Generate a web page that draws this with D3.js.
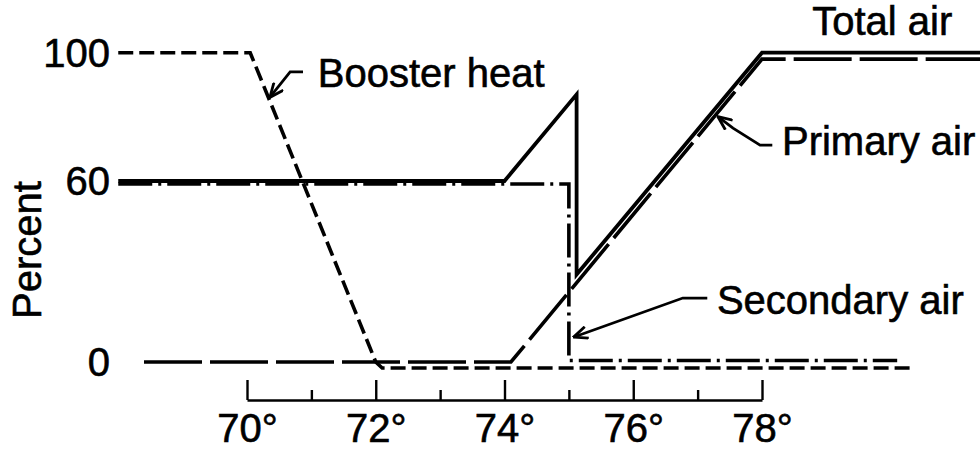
<!DOCTYPE html>
<html lang="en">
  <head>
    <meta charset="utf-8">
    <title>Percent vs temperature</title>
    <script src="https://cdn.jsdelivr.net/npm/d3@7"></script>
    <style type="text/css">
      body { margin: 0; background: #fff; }
      svg { display: block; background: #fff; }
      text { font-family: "Liberation Sans", Arial, Helvetica, sans-serif; fill: #000; stroke: #000; stroke-width: 0.6; }
      .series { fill: none; stroke: #000; stroke-linejoin: miter; }
      .arrow { fill: none; stroke: #000; stroke-width: 2.8; }
    </style>
  </head>
  <body>
    <svg width="980" height="451"></svg>
    <script type="text/javascript">
      // readings, [degrees, percent]
      var totalAir = [[68, 60], [74, 60], [75.12, 87], [75.12, 29], [78, 100], [81.6, 100]];
      var primaryAir = [[68.4, 0], [74.1, 0], [78, 98], [81.6, 98]];
      var secondaryAir = [[68, 59], [75, 59], [75, 0.5], [80.1, 0.5]];
      var boosterHeat = [[68, 100], [70.05, 100], [72, 0], [72.1, -2], [80.35, -2]];

      var majorTicks = [70, 72, 74, 76, 78];
      var minorTicks = [71, 73, 75, 77];
      var yTicks = [0, 60, 100];

      // label text, label anchor [deg, pct], arrow points [deg, pct] ending at the tip
      var noteText = ["Booster heat", "Total air", "Primary air", "Secondary air"];
      var noteAt = [[71.1, 93.7], [78.78, 109.9], [78.31, 72.5], [77.3, 20.6]];
      var noteArrow = [
        [[70.87, 94], [70.67, 94], [70.36, 86.2]],
        [],
        [[78.16, 71.2], [77.97, 71.2], [77.55, 76.5], [77.32, 80]],
        [[77.15, 21.2], [76.77, 21.2], [75.08, 8.3]]
      ];

      var svg = d3.select("svg"),
          width = +svg.attr("width"),
          height = +svg.attr("height");

      var x = d3.scaleLinear().domain([70, 78]).range([247, 762]);
      var y = d3.scaleLinear().domain([0, 60, 100]).range([362, 181, 52.7]);

      var line = d3.line()
        .x(function(d) { return x(d[0]); })
        .y(function(d) { return y(d[1]); });

      var series = [
        { data: boosterHeat, width: 3.6, dash: "15,6" },
        { data: primaryAir, width: 3.6, dash: "58,8" },
        { data: secondaryAir, width: 3.6, dash: "34,6,3,6" },
        { data: totalAir, width: 3.8, dash: null }
      ];

      svg.selectAll(".series")
        .data(series)
        .enter().append("path")
          .attr("class", "series")
          .attr("stroke-width", function(d) { return d.width; })
          .attr("stroke-dasharray", function(d) { return d.dash; })
          .attr("d", function(d) { return line(d.data); });

      // x axis: ticks point up from the base line
      var axisG = svg.append("g")
        .attr("transform", "translate(0," + 400 + ")");

      axisG.append("g")
        .call(d3.axisTop(x).tickValues(majorTicks).tickSize(20).tickSizeOuter(0).tickFormat(""))
        .call(function(g) {
          g.select(".domain").attr("stroke-width", 2.4);
          g.selectAll(".tick line").attr("stroke-width", 2.4);
        });

      axisG.append("g")
        .call(d3.axisTop(x).tickValues(minorTicks).tickSize(10).tickFormat(""))
        .call(function(g) {
          g.select(".domain").remove();
          g.selectAll(".tick line").attr("stroke-width", 2.4);
        });

      axisG.append("g")
        .call(d3.axisBottom(x).tickValues(majorTicks).tickSize(0).tickPadding(14)
          .tickFormat(function(d) { return d + "\u00b0"; }))
        .call(function(g) {
          g.select(".domain").remove();
          g.selectAll("text")
            .attr("font-size", 40)
            .attr("font-family", "'Liberation Sans', Arial, sans-serif")
            .attr("fill", "#000");
        });

      // y labels, no axis line
      svg.selectAll(".ylab")
        .data(yTicks)
        .enter().append("text")
          .attr("class", "ylab")
          .attr("x", 110)
          .attr("y", function(d) { return y(d); })
          .attr("dy", "0.36em")
          .attr("text-anchor", "end")
          .style("font-size", "40px")
          .text(function(d) { return d; });

      svg.append("text")
        .attr("transform", "translate(27,250) rotate(-90)")
        .attr("dy", "0.35em")
        .attr("text-anchor", "middle")
        .style("font-size", "40px")
        .text("Percent");

      svg.append("defs").append("marker")
        .attr("id", "head")
        .attr("viewBox", "0 0 16 14")
        .attr("refX", 14.5)
        .attr("refY", 7)
        .attr("markerWidth", 16)
        .attr("markerHeight", 14)
        .attr("markerUnits", "userSpaceOnUse")
        .attr("orient", "auto")
        .append("path")
          .attr("d", "M1,1 L15,7 L1,13")
          .attr("fill", "none")
          .attr("stroke", "#000")
          .attr("stroke-width", 2.8);

      svg.selectAll(".note")
        .data(noteText)
        .enter().append("text")
          .attr("class", "note")
          .attr("x", function(d, i) { return x(noteAt[i][0]); })
          .attr("y", function(d, i) { return y(noteAt[i][1]); })
          .attr("dy", "0.35em")
          .style("font-size", "40px")
          .text(function(d) { return d; });

      svg.selectAll(".arrow")
        .data(noteArrow.filter(function(a) { return a.length; }))
        .enter().append("path")
          .attr("class", "arrow")
          .attr("marker-end", "url(#head)")
          .attr("d", line);
    </script>
  </body>
</html>
